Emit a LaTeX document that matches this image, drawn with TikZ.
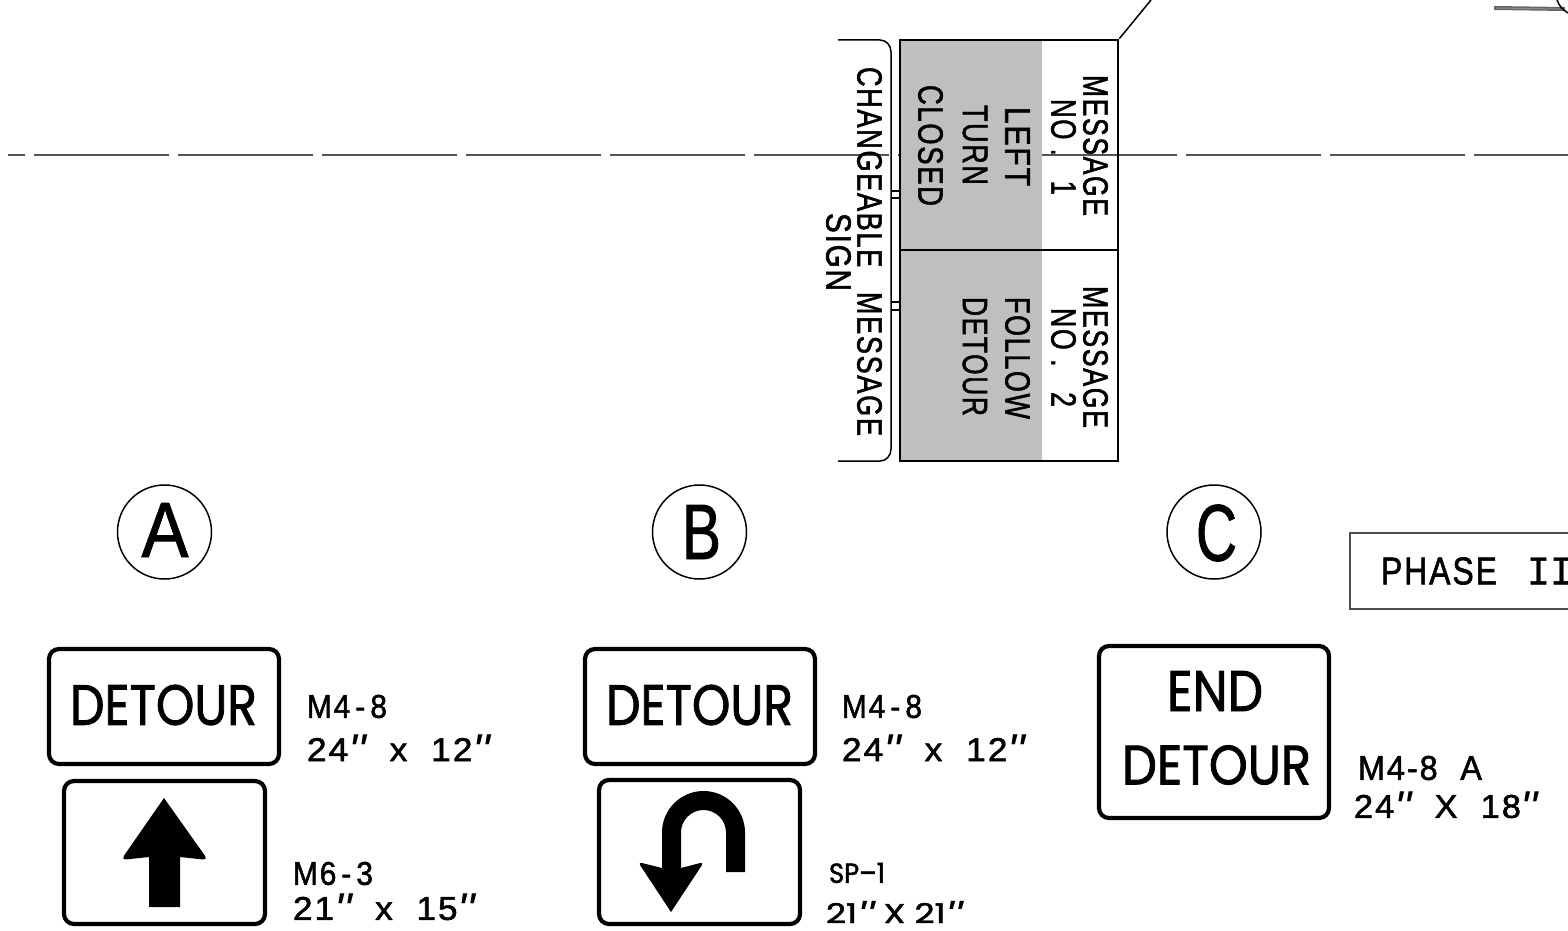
\documentclass[tikz,border=0pt]{standalone}
\usepackage{fontspec}
\usepackage{graphicx}
\setmainfont{Liberation Sans}[FakeBold=1.6,LetterSpace=6]
\newfontfamily\signfont[FakeBold=1.6]{Poppins}
\newfontfamily\markfont[FakeBold=1.2]{Liberation Sans}
\newfontfamily\phasefont[FakeBold=1]{Liberation Mono}
\newfontfamily\tickfont{Liberation Sans Italic}
\newcommand\fitbox[3]{\resizebox{#1pt}{#2pt}{#3}}
\newcommand\qq{\smash{\raisebox{-.3ex}{\fontsize{14}{14}\selectfont\tickfont "}}}
\tikzset{
  txt/.style={inner sep=0pt,outer sep=0pt,text=black},
  vtxt/.style={txt,rotate=-90},
  panel/.style={draw=black,line width=2.6pt,inner sep=0pt,minimum width=218pt},
  plate/.style={draw=black,line width=4.2pt,rounded corners=10pt,inner sep=0pt,fill=white},
  thin line/.style={draw=black,line width=1.5pt},
  callout/.style={circle,draw=black,line width=1.5pt,minimum size=94pt,inner sep=0pt},
  centre/.style={draw=black!67,line width=2.7pt}
}
\begin{document}
\begin{tikzpicture}[x=1pt,y=-1pt]
\useasboundingbox (0,0) rectangle (1568,931);
% centre line
\draw[centre] (8,155) -- (25,155);
\foreach \s in {34,178,322,466,610,754,1042,1186,1330,1474}{
  \draw[centre] (\s,155) -- ++(135,0);
}
\draw[centre] (898,155) -- (900,155);
% top right fragments
\draw[draw=black!60,line width=4pt] (1494,8) -- (1565,9);
\draw[draw=black!45,line width=1pt] (1496,8) -- (1560,9);
\draw[thin line] (1557,0) .. controls (1559,6) and (1563,10) .. (1568,13);
% grey fields
\fill[black!25] (900,40) rectangle (1042,461);
% panels
\node[panel,minimum height=210pt] (msgone) at (1009,145) {};
\node[panel,minimum height=211pt] (msgtwo) at (1009,355.5) {};
\coordinate (leadend) at (1151,0);
\draw[thin line] (msgone.north east) -- (leadend);
% bracket
\coordinate (brtop) at (838,40);
\coordinate (brbot) at (838,461);
\draw[thin line] (brtop) -- (880,40) .. controls (886,40) and (891,45) .. (891,52)
  -- (891,449) .. controls (891,456) and (886,461) .. (880,461) -- (brbot);
\foreach \y in {191,198,302,310}{
  \draw[draw=black,line width=1.2pt] (891,\y) -- (900,\y);
}
% vertical text
\node[vtxt] (t1) at (1095.5,145.5) {\fitbox{141}{24.5}{MESSAGE}};
\node[vtxt] (t2) at (1063.5,147) {\fitbox{96}{24.5}{NO\hspace{.35em}.\hspace{.95em}1}};
\node[vtxt] (t3) at (1017.5,146.5) {\fitbox{79}{24.5}{LEFT}};
\node[vtxt] (t4) at (975,145) {\fitbox{80}{24.5}{TURN}};
\node[vtxt] (t5) at (930.5,145.5) {\fitbox{121}{24.5}{CLOSED}};
\node[vtxt] (t6) at (869.5,251.5) {\fitbox{369}{24.5}{CHANGEABLE\hspace{.9em}MESSAGE}};
\node[vtxt] (t7) at (838.5,252) {\fitbox{78}{24.5}{SIGN}};
\node[vtxt] (t8) at (1095.5,357) {\fitbox{142}{24.5}{MESSAGE}};
\node[vtxt] (t9) at (1063.5,357.5) {\fitbox{99}{24.5}{NO\hspace{.35em}.\hspace{.95em}2}};
\node[vtxt] (t10) at (1017.5,358) {\fitbox{122}{24.5}{FOLLOW}};
\node[vtxt] (t11) at (975,356.5) {\fitbox{119}{24.5}{DETOUR}};
% callouts
\node[callout] (ca) at (164.5,532) {};
\node[callout] (cb) at (699.5,532) {};
\node[callout] (cc) at (1214,532) {};
\node[txt] (la0) at (165,530) {\fitbox{47}{54}{\markfont A}};
\node[txt] (lb0) at (701.5,532) {\fitbox{39}{54}{\markfont B}};
\node[txt] (lc0) at (1216.5,533) {\fitbox{41}{56}{\markfont C}};
% phase box
\draw[draw=black!70,line width=1.2pt] (1580,533) -- (1350,533) -- (1350,609) -- (1580,609);
\node[txt] (ph) at (1439,571) {\fitbox{116}{27}{PHASE}};
\node[txt] (ph2) at (1550,571) {\fitbox{46}{27}{\phasefont II}};
% sign plates
\node[plate,minimum width=230pt,minimum height=115pt] (pa) at (164,706.5) {};
\node[plate,minimum width=201pt,minimum height=143pt] (pb) at (164.5,852.5) {};
\node[plate,minimum width=230pt,minimum height=115pt] (pc) at (700,706.5) {};
\node[plate,minimum width=201pt,minimum height=144pt] (pd) at (699.5,852) {};
\node[plate,minimum width=230pt,minimum height=172pt] (pe) at (1214,732) {};
\node[txt] (da) at (163.5,705) {\fitbox{187}{40}{\signfont DETOUR}};
\node[txt] (db) at (699.5,705) {\fitbox{187}{40}{\signfont DETOUR}};
\node[txt] (de) at (1215,691) {\fitbox{96}{40}{\signfont END}};
\node[txt] (df) at (1216.5,765) {\fitbox{189}{39}{\signfont DETOUR}};
% arrows
\fill[black] (164,798) [rounded corners=5pt] -- (208,860) [sharp corners] -- (180,857) -- (180,907) -- (149,907) -- (149,857) [rounded corners=5pt] -- (121,860) [sharp corners] -- cycle;
\fill[black] (726,872) -- (745,872) -- (745,832.5)
  .. controls (745,809.6) and (726.4,791) .. (703.5,791)
  .. controls (680.6,791) and (662,809.6) .. (662,832.5)
  -- (662,868) [rounded corners=4pt] -- (638,862) [sharp corners] -- (671,912) [rounded corners=4pt] -- (704,862) [sharp corners] -- (681,868)
  -- (681,832.5) .. controls (681,820.1) and (691.1,810) .. (703.5,810)
  .. controls (715.9,810) and (726,820.1) .. (726,832.5) -- cycle;
% labels
\node[txt] (la) at (347,706.5) {\fitbox{80}{23}{M4\,-\,8}};
\node[txt] (lb) at (398.5,749.5) {\fitbox{183}{23}{24\qq\ \ x\ \ 12\qq}};
\node[txt] (lc) at (333,873.5) {\fitbox{80}{23}{M6\,-\,3}};
\node[txt] (ld) at (384,908.5) {\fitbox{182}{23}{21\qq\ \ x\ \ 15\qq}};
\node[txt] (le) at (882,706.5) {\fitbox{80}{23}{M4\,-\,8}};
\node[txt] (lf) at (933.5,749.5) {\fitbox{183}{23}{24\qq\ \ x\ \ 12\qq}};
\node[txt] (lg) at (857,873) {\fitbox{56}{20}{\signfont SP–1}};
\node[txt] (lh) at (894.5,913) {\fitbox{137}{20}{\signfont 21\qq\ X\ 21\qq}};
\node[txt] (li) at (1420,768) {\fitbox{124}{24}{M4-8\hspace{.7em}A}};
\node[txt] (lj) at (1446,806.5) {\fitbox{184}{23}{24\qq\ \ X\ \ 18\qq}};
\end{tikzpicture}
\end{document}
